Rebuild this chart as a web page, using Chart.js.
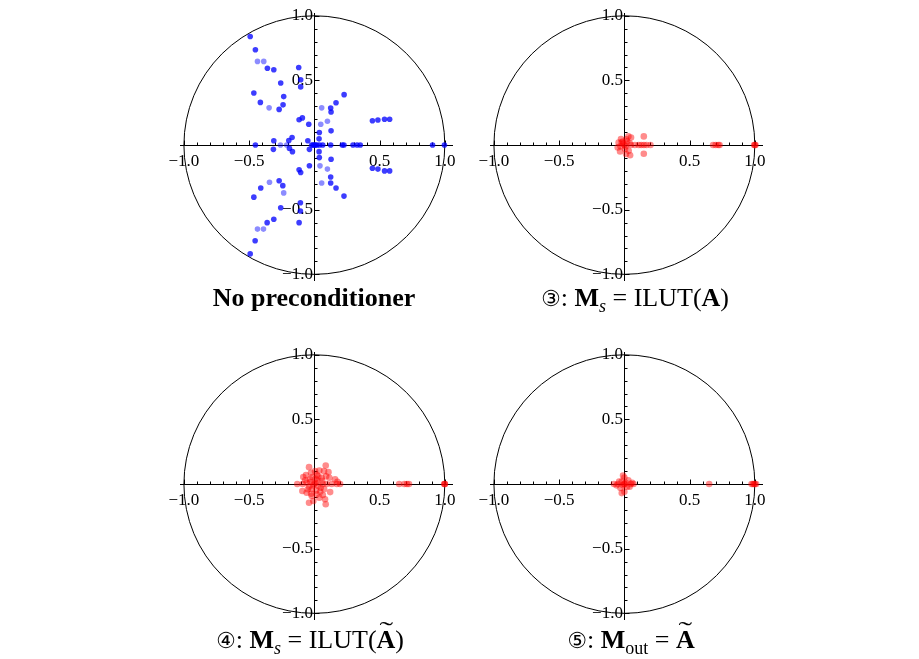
<!DOCTYPE html>
<html><head><meta charset="utf-8">
<script src="https://cdn.jsdelivr.net/npm/chart.js@4/dist/chart.umd.min.js"></script>
<style>
html,body{margin:0;padding:0;background:#fff;}
body{width:919px;height:659px;position:relative;overflow:hidden;font-family:"Liberation Serif","Times New Roman",serif;}
canvas{position:absolute;}
.title{position:absolute;width:320px;text-align:center;font-size:26px;line-height:26px;color:#000;white-space:nowrap;}
.title sub{font-size:18px;vertical-align:-6px;line-height:0;}
.circ{font-family:"DejaVu Sans",sans-serif;font-size:22px;}
.til{position:relative;display:inline-block;}
.til .mark{position:absolute;left:-1px;right:-1px;top:-10px;text-align:center;font-weight:normal;font-size:24px;transform:scaleX(1.7);}
</style></head><body>
<canvas id="c1" width="314" height="294" style="left:150px;top:0px"></canvas>
<canvas id="c2" width="314" height="294" style="left:460px;top:0px"></canvas>
<canvas id="c3" width="314" height="294" style="left:150px;top:339px"></canvas>
<canvas id="c4" width="314" height="294" style="left:460px;top:339px"></canvas>
<div class="title" style="left:154px;top:285px;font-weight:bold">No preconditioner</div>
<div class="title" style="left:475px;top:285px"><span class="circ">③</span>: <b>M</b><sub><i>s</i></sub> = ILUT(<b>A</b>)</div>
<div class="title" style="left:150px;top:627px"><span class="circ">④</span>: <b>M</b><sub><i>s</i></sub> = ILUT(<span class="til"><b>A</b><span class="mark">˜</span></span>)</div>
<div class="title" style="left:471px;top:627px"><span class="circ">⑤</span>: <b>M</b><sub>out</sub> = <span class="til"><b>A</b><span class="mark">˜</span></span></div>
<script>
// ---- tick values / labels ----
const tickValues = [-1, -0.5, 0.5, 1];
const tickLabels = ["\u22121.0", "\u22120.5", "0.5", "1.0"];
const minorTickValues = [-1,-0.9,-0.8,-0.7,-0.6,-0.5,-0.4,-0.3,-0.2,-0.1,0.1,0.2,0.3,0.4,0.5,0.6,0.7,0.8,0.9,1];

// ---- panel 1: no preconditioner (blue) ----
const noPrecStrong = [
  [-0.492,0.840],[-0.452,0.737],[-0.360,0.594],[-0.311,0.582],[-0.120,0.600],[-0.258,0.480],[-0.105,0.505],[-0.105,0.450],
  [-0.464,0.403],[-0.414,0.330],[-0.270,0.276],[-0.240,0.311],[-0.235,0.375],[-0.117,0.196],[-0.092,0.210],[-0.043,0.161],
  [0.125,0.286],[0.128,0.256],[0.166,0.327],[0.228,0.390],[0.038,0.097],[0.128,0.110],[0.445,0.188],[0.487,0.194],
  [0.538,0.200],[0.577,0.200],[-0.171,0.059],[-0.196,0.035],[-0.311,0.033],[-0.050,0.033],[0.036,0.048],
  [-0.452,0],[-0.020,0],[-0.010,0],[0,0],[0.010,0],[0.020,0],[0.040,0],[0.064,0],[0.125,0],[0.214,0],[0.227,0],
  [0.296,0],[0.327,0],[0.352,0],[0.906,0],[0.997,0],
  [-0.492,-0.842],[-0.454,-0.740],[-0.362,-0.600],[-0.311,-0.574],[-0.117,-0.600],[-0.258,-0.485],[-0.107,-0.510],[-0.107,-0.446],
  [-0.464,-0.403],[-0.411,-0.332],[-0.270,-0.276],[-0.242,-0.314],[-0.117,-0.191],[-0.105,-0.212],[-0.038,-0.160],
  [0.125,-0.293],[0.125,-0.247],[0.166,-0.332],[0.227,-0.395],[0.038,-0.097],[0.128,-0.110],[0.445,-0.179],[0.487,-0.186],
  [0.538,-0.200],[0.577,-0.200],[-0.168,-0.051],[-0.191,-0.026],[-0.314,-0.033],[-0.038,-0.033],[0.036,-0.051]
];
const noPrecFaint = [
  [-0.436,0.647],[-0.388,0.647],[-0.347,0.288],[0.056,0.288],[0.100,0.184],[0.049,0.161],[-0.260,0],[-0.212,0],
  [-0.436,-0.650],[-0.390,-0.650],[-0.344,-0.288],[-0.235,-0.370],[0.056,-0.293],[0.100,-0.186],[0.043,-0.161]
];

// ---- panel 2: (3) Ms = ILUT(A) ----
const ilutA = [
  [0,0],[-0.010,0.010],[0.010,-0.010],[-0.020,0.020],[0.020,0.030],[0.031,0.067],[0.051,0.059],[-0.026,0.046],
  [-0.044,0.020],[-0.051,-0.018],[-0.033,-0.049],[0.013,-0.069],[0.044,-0.079],[0.033,-0.044],[-0.013,0.028],
  [0.015,0.045],[0.005,-0.030],[-0.030,-0.010],[0.040,0.015],[0.050,0],[0.080,0],[0.110,0],[0.130,0],[0.150,0],
  [0.170,0],[0.200,0],[0.149,0.067],[0.149,-0.067],[0.680,0],[0.700,0],[0.720,0],[0.730,0],[0.995,0],[1.000,0],[1.005,0]
];

// ---- panel 3: (4) Ms = ILUT(A~) ----
const ilutATilde = [
  [-0.041,0.131],[0.087,0.144],[0.038,0.105],[0.074,0.100],[0.108,0.092],[0.115,0.049],[0.159,0.036],[0.177,0.018],
  [-0.085,0.054],[-0.064,0.069],[-0.026,0.087],[0.005,0.100],[-0.131,0],[-0.090,0],[-0.059,0.010],[-0.033,0.036],
  [0.023,0.028],[0.056,0.049],[0.064,0],[0.095,0],[0.133,0],[0.172,0],[0.197,0],[-0.092,-0.054],[-0.059,-0.067],
  [-0.020,-0.041],[0.013,-0.049],[0.049,-0.028],[0.121,-0.062],[0.038,-0.105],[-0.020,-0.092],[-0.041,-0.144],
  [0.082,-0.118],[0.087,-0.156],[-0.008,-0.131],[0.018,-0.080],[0,0],[0.010,0.010],[-0.010,-0.010],[0.030,0.060],
  [-0.040,-0.020],[0.020,0.070],[-0.015,0.055],[0.060,0.025],[0.045,-0.060],[-0.050,-0.040],[-0.070,0.030],
  [0.075,-0.040],[0.010,0.040],[-0.025,-0.075],[0.090,0.060],[0.065,-0.085],[-0.030,0.015],[0.030,-0.015],
  [0.650,0],[0.690,0],[0.710,0],[0.725,0],[0.995,0],[1.000,0],[1.000,0]
];

// ---- panel 4: (5) Mout = A~ ----
const mOut = [
  [0,0],[0,0],[0.010,0.010],[-0.010,-0.010],[-0.020,0.020],[0.020,-0.020],[-0.050,0],[0.050,0],[-0.080,0],[0.070,0],
  [0,0.050],[0,-0.060],[-0.010,0.065],[-0.020,-0.070],[0.030,0.030],[-0.030,-0.030],[0.040,-0.020],[-0.040,0.020],
  [0.060,0.010],[-0.060,-0.010],[0.650,0],[0.975,0],[0.985,0],[0.995,0],[1.000,0],[1.010,0]
];

const toXY = arr => arr.map(p => ({x: p[0], y: p[1]}));

const decor = {
  id: 'decor',
  beforeDatasetsDraw(chart) {
    const {ctx, scales: {x, y}} = chart;
    const cx = x.getPixelForValue(0), cy = y.getPixelForValue(0);
    const rx = x.getPixelForValue(1) - cx, ry = cy - y.getPixelForValue(1);
    ctx.save();
    ctx.strokeStyle = '#000';
    ctx.lineWidth = 1;
    ctx.beginPath();
    ctx.ellipse(cx, cy, rx, ry, 0, 0, Math.PI * 2);
    ctx.stroke();
    ctx.beginPath();
    const ax = Math.round(cx) + 0.5, ay = Math.round(cy) + 0.5;
    minorTickValues.forEach(v => {
      const len = tickValues.includes(v) ? 5 : 3;
      const px = Math.round(x.getPixelForValue(v)) + 0.5;
      ctx.moveTo(px, ay); ctx.lineTo(px, ay - len);
      const py = Math.round(y.getPixelForValue(v)) + 0.5;
      ctx.moveTo(ax, py); ctx.lineTo(ax + len, py);
    });
    ctx.stroke();
    ctx.restore();
  }
};

function axis(min, max, pos, isX) {
  return {
    type: 'linear', min, max, position: pos,
    grid: {display: false, drawTicks: false},
    border: {display: true, color: '#000', width: 1},
    ticks: {
      color: '#000', padding: isX ? 6 : 3,
      font: {family: '"Liberation Serif", serif', size: 17},
      callback: (v, i) => isX ? tickLabels[i] : tickLabels[i] + '\u200A'
    },
    afterBuildTicks: s => { s.ticks = tickValues.map(v => ({value: v})); },
    afterFit: s => { if (isX) s.height = 0; else s.width = 0; }
  };
}

function makeChart(id, datasets) {
  return new Chart(document.getElementById(id), {
    type: 'scatter',
    data: {datasets},
    options: {
      responsive: false, animation: false, devicePixelRatio: 1,
      layout: {padding: {left: 30, right: 12, top: 12, bottom: 12}},
      plugins: {legend: {display: false}, tooltip: {enabled: false}, title: {display: false}},
      scales: {
        x: axis(-1.03, 1.055, {y: 0}, true),
        y: axis(-1.05, 1.02, {x: 0}, false)
      }
    },
    plugins: [decor]
  });
}

const redStyle = {backgroundColor: 'rgba(255,0,0,0.45)', borderWidth: 0, pointRadius: 3.3, pointHoverRadius: 3.3};

makeChart('c1', [
  {data: toXY(noPrecFaint), backgroundColor: 'rgba(0,0,255,0.45)', borderWidth: 0, pointRadius: 2.8},
  {data: toXY(noPrecStrong), backgroundColor: 'rgba(0,0,255,0.76)', borderWidth: 0, pointRadius: 2.8}
]);
makeChart('c2', [Object.assign({data: toXY(ilutA)}, redStyle)]);
makeChart('c3', [Object.assign({data: toXY(ilutATilde)}, redStyle)]);
makeChart('c4', [Object.assign({data: toXY(mOut)}, redStyle)]);
</script>
</body></html>
